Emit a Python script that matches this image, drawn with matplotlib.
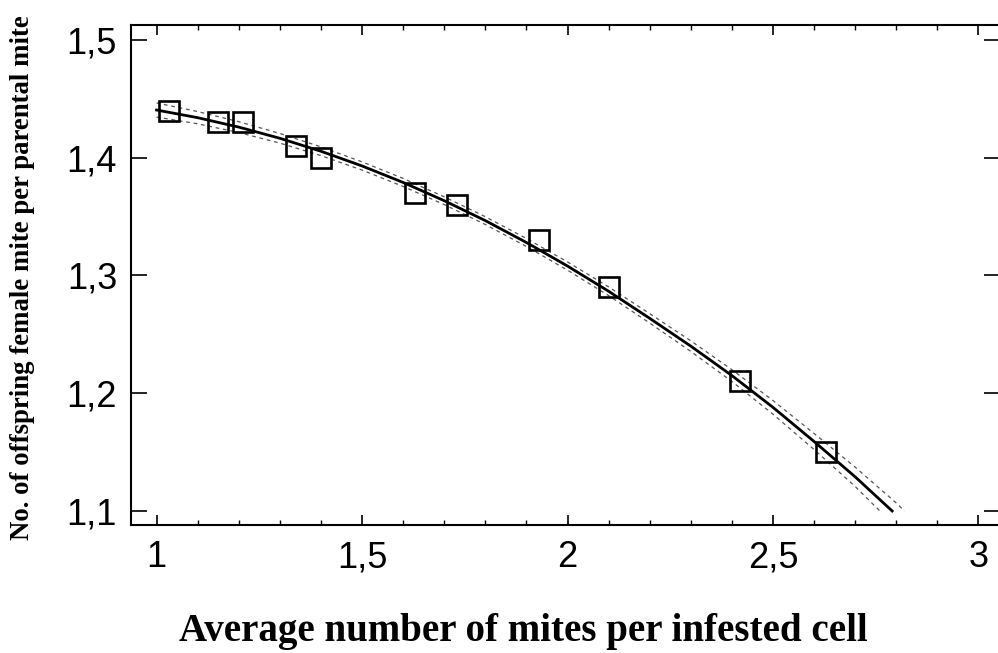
import matplotlib
matplotlib.use("Agg")
import matplotlib.pyplot as plt
from matplotlib.ticker import FixedLocator, FuncFormatter, MultipleLocator

# observed data points
obs_x = [1.03, 1.15, 1.21, 1.34, 1.40, 1.63, 1.73, 1.93, 2.10, 2.42, 2.63]
obs_y = [1.44, 1.43, 1.43, 1.41, 1.40, 1.37, 1.36, 1.33, 1.29, 1.21, 1.15]

# fitted curve
fit_x = [1.0, 1.1, 1.2, 1.3, 1.4, 1.5, 1.6, 1.7, 1.8, 1.9, 2.0, 2.1, 2.2, 2.3,
         2.4, 2.5, 2.6, 2.7, 2.79]
fit_y = [1.4405, 1.434, 1.426, 1.4165, 1.4055, 1.393, 1.379, 1.3635, 1.3466,
         1.328, 1.308, 1.2866, 1.2636, 1.240, 1.215, 1.188, 1.159, 1.129, 1.100]

# confidence band limits
upper_x = [1.0, 1.1, 1.2, 1.3, 1.4, 1.5, 1.6, 1.7, 1.8, 1.9, 2.0, 2.1, 2.2,
           2.3, 2.4, 2.5, 2.6, 2.7, 2.8, 2.82]
upper_y = [1.4465, 1.4392, 1.4306, 1.4206, 1.4092, 1.3965, 1.3824, 1.3668,
           1.3499, 1.3314, 1.3115, 1.2903, 1.2676, 1.2445, 1.2200, 1.1938,
           1.1658, 1.1372, 1.1068, 1.1000]
lower_x = [1.0, 1.1, 1.2, 1.3, 1.4, 1.5, 1.6, 1.7, 1.8, 1.9, 2.0, 2.1, 2.2,
           2.3, 2.4, 2.5, 2.6, 2.7, 2.76]
lower_y = [1.4345, 1.4288, 1.4214, 1.4124, 1.4018, 1.3895, 1.3756, 1.3602,
           1.3433, 1.3246, 1.3045, 1.2829, 1.2596, 1.2355, 1.2100, 1.1822,
           1.1522, 1.1208, 1.1000]

x_ticks = [1, 1.5, 2, 2.5, 3]
y_ticks = [1.1, 1.2, 1.3, 1.4, 1.5]
x_label = "Average number of mites per infested cell"
y_label = "No. of offspring female mite per parental mite"

W, H = 998, 653
fig = plt.figure(figsize=(W / 100, H / 100), dpi=100)
ax = fig.add_axes([131 / W, 1 - 525 / H, (998 - 131) / W + 0.002, (525 - 25) / H])

ax.plot(upper_x, upper_y, color="#555555", lw=0.9, ls=(0, (3, 3)))
ax.plot(lower_x, lower_y, color="#555555", lw=0.9, ls=(0, (3, 3)))
ax.plot(fit_x, fit_y, color="black", lw=2.0)
ax.plot(obs_x, obs_y, ls="none", marker="s", markersize=14,
        markerfacecolor="none", markeredgecolor="black", markeredgewidth=1.9)

ax.set_xlim(0.9378, 3.0524)
ax.set_ylim(1.0881, 1.5127)

fmt = FuncFormatter(lambda v, p: ("%g" % v).replace(".", ","))
ax.xaxis.set_major_locator(FixedLocator(x_ticks))
ax.xaxis.set_minor_locator(MultipleLocator(0.1))
ax.yaxis.set_major_locator(FixedLocator(y_ticks))
ax.xaxis.set_major_formatter(fmt)
ax.yaxis.set_major_formatter(fmt)

ax.tick_params(axis="x", which="major", direction="in", length=7.5, width=1.2,
               top=True, bottom=True, pad=11, labelsize=26)
ax.tick_params(axis="x", which="minor", direction="in", length=3.8, width=1.0,
               top=True, bottom=True)
ax.tick_params(axis="y", which="major", direction="in", length=11.5, width=1.2,
               left=True, right=True, pad=10, labelsize=26)
for lab in ax.get_xticklabels() + ax.get_yticklabels():
    lab.set_fontfamily("Liberation Sans")

for s in ["left", "bottom", "top"]:
    ax.spines[s].set_linewidth(1.5)
ax.spines["right"].set_visible(False)

# axis titles placed in figure coordinates, sized to match the reference width
xt = fig.text(523 / W, 1 - 632 / H, x_label, ha="center", va="center",
              family="Liberation Serif", weight="bold", fontsize=20)
yt = fig.text(23 / W, 1 - 278 / H, y_label, ha="center", va="center",
              rotation=90, family="Liberation Serif", weight="bold", fontsize=16)

fig.canvas.draw()
r = fig.canvas.get_renderer()
bw = xt.get_window_extent(r).width
xt.set_fontsize(20 * 690 / bw)
bh = yt.get_window_extent(r).height
yt.set_fontsize(16 * 525 / bh)

fig.savefig("out.png", dpi=100)
